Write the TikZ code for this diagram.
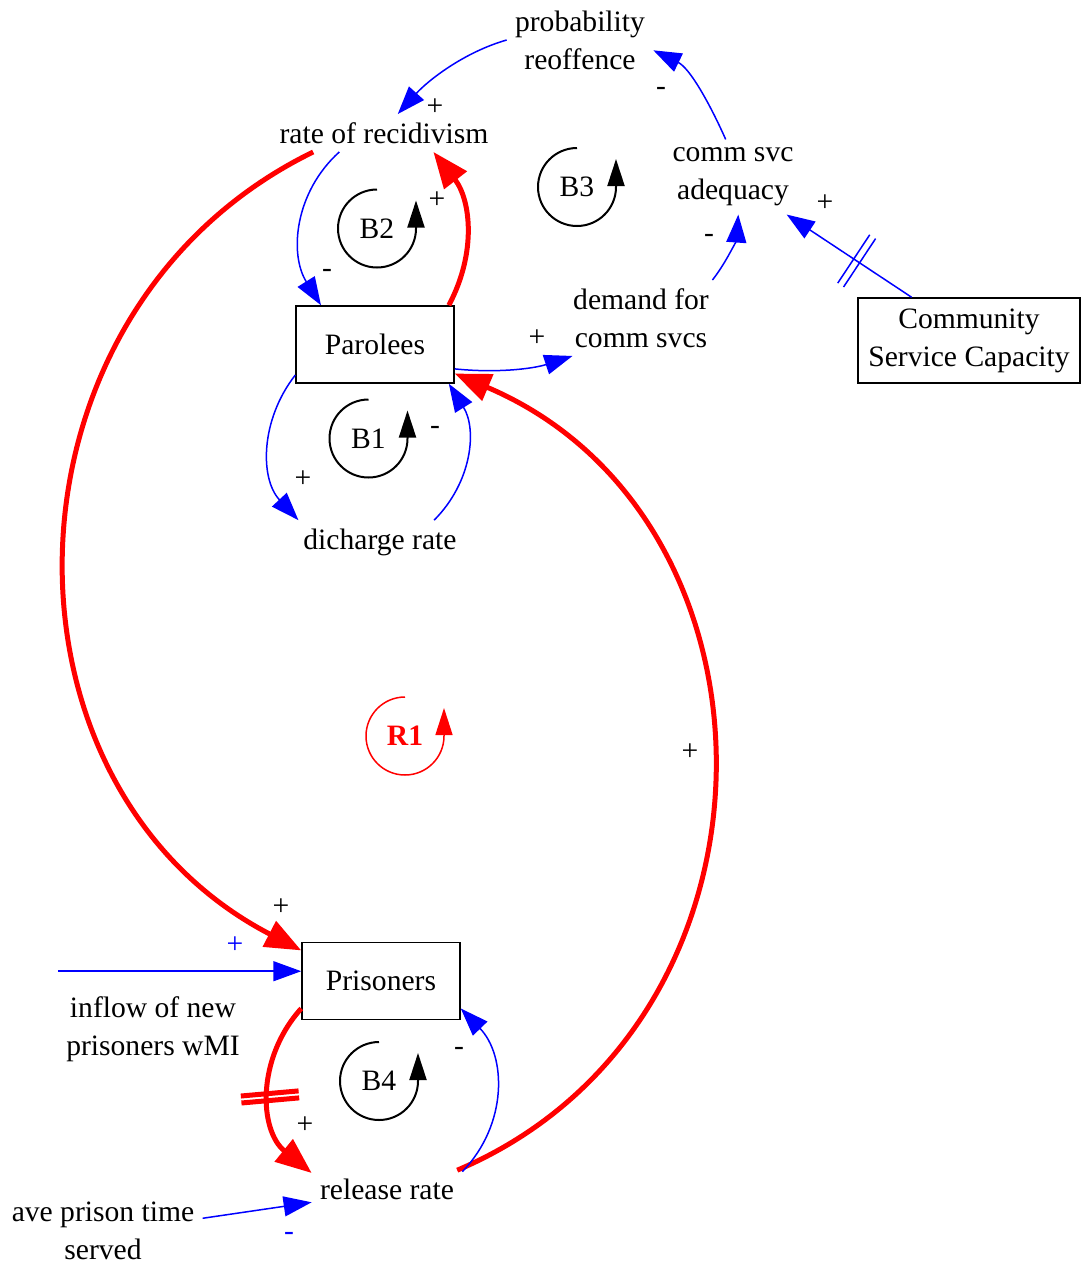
\documentclass[tikz,border=0pt]{standalone}
\usepackage{fontspec}
\setmainfont{Liberation Serif}
\usetikzlibrary{arrows.meta, decorations.markings}

\begin{document}
\begin{tikzpicture}[
    x=0.5pt, y=0.5pt,
    font=\fontsize{14.8}{19}\selectfont,
    var/.style={align=center, inner sep=4pt},
    stock/.style={draw, line width=0.75pt, align=center, minimum width=79pt, minimum height=38.5pt, inner sep=0pt},
    pol/.style={inner sep=0pt},
    link/.style={blue, line width=0.75pt, -{Triangle[length=14pt, width=10pt]}},
    redlink/.style={red, line width=2.5pt, -{Triangle[length=18pt, width=14pt]}},
    loopsym/.style={line width=1pt, -{Triangle[length=13.5pt, width=8.5pt]}},
    delaymark/.style={postaction={decorate, decoration={markings,
        mark=at position #1 with {\draw[-] (-3.5,-29) -- (-3.5,29) (3.5,-29) -- (3.5,29);}}}}
]
    \useasboundingbox (0,0) rectangle (1081,-1263);

    % variables and stocks
    \node[var] (prob) at (580,-40) {probability\\reoffence};
    \node[var] (rec) at (384,-133) {rate of recidivism};
    \node[var] (csa) at (733,-177) {comm svc\\adequacy};
    \node[var] (dem) at (641,-318) {demand for\\comm svcs};
    \node[stock, minimum width=111pt, minimum height=42.5pt] (csc) at (969,-340.5) {Community\\Service Capacity};
    \node[stock] (par) at (375,-344.5) {Parolees};
    \node[var] (dis) at (380,-542) {dicharge rate};
    \node[stock] (pris) at (381,-981) {Prisoners};
    \node[var] (inflow) at (153,-1029) {inflow of new\\prisoners wMI};
    \node[var] (rel) at (387,-1189) {release rate};
    \node[var] (ave) at (103,-1230.5) {ave prison time\\served};

    % loop markers
    \node (b2) at (377,-228.5) {B2};
    \draw[loopsym] (b2) ++(0,39) arc (90:360:39) -- ++(0,28);
    \node (b3) at (577,-187) {B3};
    \draw[loopsym] (b3) ++(0,39) arc (90:360:39) -- ++(0,28);
    \node (b1) at (368.5,-438.5) {B1};
    \draw[loopsym] (b1) ++(0,39) arc (90:360:39) -- ++(0,28);
    \node (b4) at (379,-1081) {B4};
    \draw[loopsym] (b4) ++(0,39) arc (90:360:39) -- ++(0,28);
    \node[text=red, font=\fontsize{14.8}{19}\selectfont\bfseries] (r1) at (405,-736) {R1};
    \draw[loopsym, red, line width=0.75pt] (r1) ++(0,39) arc (90:360:39) -- ++(0,28);

    % links
    \draw[link] (prob.west) to[out=196, in=48, looseness=0.87] (rec.54);
    \draw[link] (csa.101) to[out=114, in=334, looseness=0.9] (prob.-8);
    \draw[link] (dem.28) to[out=52, in=266, looseness=0.88] (csa.-82);
    \draw[link, delaymark=0.44] (csc.143) -- (csa.-35);
    \draw[link] (rec.203) to[out=222, in=122] (par.144);
    \draw[redlink] (par.28) to[out=62, in=308] (rec.-21);
    \draw[redlink] (rec.195) to[out=206, in=152.6, looseness=1.15] (pris.159);
    \draw[link] (par.-17) to[out=-6, in=198, looseness=0.9] (dem.209);
    \draw[redlink] (rel.15) to[out=23, in=337, looseness=1.19] (par.-20);
    \draw[link] (par.201) to[out=232, in=133] (dis.165);
    \draw[link] (dis.22) to[out=45, in=302] (par.-28);
    \draw[link] (pris.173 -| inflow.west) -- (pris.173);
    \draw[redlink, delaymark=0.52] (pris.199) to[out=228, in=141, looseness=1.05] (rel.168);
    \draw[link] (rel.13) to[out=46, in=314, looseness=1.03] (pris.-19);
    \draw[link] (ave.7) -- (rel.190);

    % polarities
    \node[pol] (s1) at (435,-107) {+};
    \node[pol] (s2) at (661,-91) {-};
    \node[pol] (s3) at (709,-238) {-};
    \node[pol] (s4) at (825,-203) {+};
    \node[pol] (s5) at (327,-273) {-};
    \node[pol] (s6) at (437,-200) {+};
    \node[pol] (s7) at (537,-338) {+};
    \node[pol] (s8) at (303,-479) {+};
    \node[pol] (s9) at (435,-430) {-};
    \node[pol] (s10) at (690,-752) {+};
    \node[pol] (s11) at (281,-907) {+};
    \node[pol, text=blue] (s12) at (235,-945) {+};
    \node[pol] (s13) at (459,-1051) {-};
    \node[pol] (s14) at (305,-1125) {+};
    \node[pol, text=blue] (s15) at (289,-1236) {-};
\end{tikzpicture}
\end{document}
